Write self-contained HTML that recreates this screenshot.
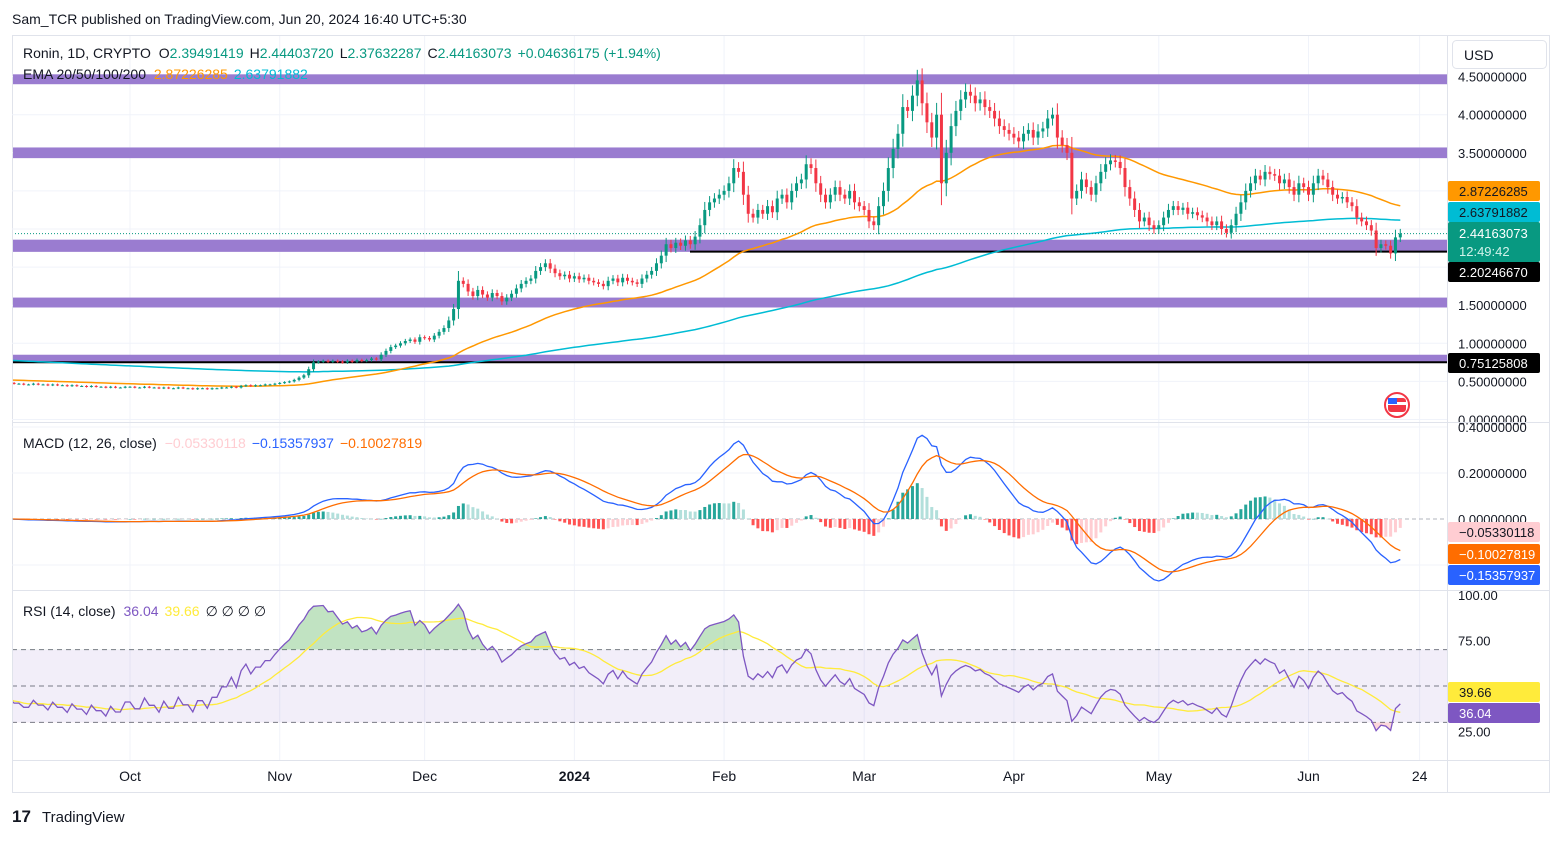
<!DOCTYPE html>
<html><head><meta charset="utf-8"><style>
body{margin:0;background:#fff;width:1563px;height:837px;overflow:hidden;font-family:"Liberation Sans",sans-serif}
svg text{font-family:"Liberation Sans",sans-serif}
</style></head><body>
<svg id="chart" width="1563" height="837" viewBox="0 0 1563 837" xmlns="http://www.w3.org/2000/svg">
<defs><clipPath id="plot"><rect x="13" y="36" width="1434" height="724"/></clipPath></defs>
<text x="12" y="24" font-size="14" fill="#131722">Sam_TCR published on TradingView.com, Jun 20, 2024 16:40 UTC+5:30</text>
<rect x="12.5" y="35.5" width="1537" height="757" fill="none" stroke="#e0e3eb"/>
<g id="grid"></g>
<g id="bands" clip-path="url(#plot)"></g>
<g id="main" clip-path="url(#plot)"></g>
<g id="macd" clip-path="url(#plot)"></g>
<g id="rsi" clip-path="url(#plot)"></g>
<g id="axes"></g>
<line x1="12" y1="422.5" x2="1550" y2="422.5" stroke="#e0e3eb"/>
<line x1="12" y1="590.5" x2="1550" y2="590.5" stroke="#e0e3eb"/>
<line x1="1447.5" y1="35" x2="1447.5" y2="792" stroke="#e0e3eb"/>
<line x1="12" y1="760.5" x2="1550" y2="760.5" stroke="#e0e3eb"/>
<text x="23" y="58" font-size="14" fill="#131722">Ronin, 1D, CRYPTO <tspan dx="4">O</tspan><tspan fill="#089981">2.39491419</tspan><tspan dx="6">H</tspan><tspan fill="#089981">2.44403720</tspan><tspan dx="6">L</tspan><tspan fill="#089981">2.37632287</tspan><tspan dx="6">C</tspan><tspan fill="#089981">2.44163073</tspan><tspan dx="6" fill="#089981">+0.04636175 (+1.94%)</tspan></text>
<text x="23" y="79" font-size="14" fill="#131722">EMA 20/50/100/200 <tspan dx="4" fill="#ff9800">2.87226285</tspan><tspan dx="6" fill="#00bcd4">2.63791882</tspan></text>
<text x="23" y="448" font-size="14" fill="#131722">MACD (12, 26, close) <tspan dx="4" fill="#ffcdd2">−0.05330118</tspan><tspan dx="6" fill="#2962ff">−0.15357937</tspan><tspan dx="6" fill="#ff6d00">−0.10027819</tspan></text>
<text x="23" y="616" font-size="14" fill="#131722">RSI (14, close) <tspan dx="4" fill="#7e57c2">36.04</tspan><tspan dx="6" fill="#ffeb3b">39.66</tspan><tspan dx="6">∅  ∅  ∅  ∅</tspan></text>
<rect x="1452.5" y="40.5" width="94" height="28" rx="4" fill="#fff" stroke="#e0e3eb"/>
<text x="1464" y="60" font-size="14" fill="#131722">USD</text>
<g><circle cx="1397" cy="405" r="12" fill="#fff" stroke="#f23645" stroke-width="2"/><rect x="1388" y="398" width="18" height="14" rx="3" fill="#f23645"/><rect x="1388" y="402" width="18" height="3" fill="#fff"/><rect x="1388" y="398" width="9" height="6" fill="#2962ff"/></g>
<g><text x="12" y="822" font-size="17" font-weight="bold" fill="#131722">17</text><text x="42" y="822" font-size="15" fill="#131722">TradingView</text></g>
</svg>
<script>
const NS='http://www.w3.org/2000/svg';
// ---- data ----
const closes=[
0.48,0.47,0.47,0.46,0.46,0.47,0.46,0.46,0.45,0.46,0.45,0.45,0.44,0.45,0.44,0.44,0.43,0.44,0.43,0.43,0.42,0.43,0.42,0.42,0.43,
0.43,0.42,0.42,0.43,0.42,0.42,0.41,0.42,0.41,0.41,0.42,0.41,0.41,0.40,0.41,0.41,0.40,0.41,0.41,0.42,0.42,0.43,0.42,0.44,0.45,0.44,0.45,0.45,0.46,0.46,0.47,
0.48,0.49,0.50,0.52,0.55,0.58,0.66,0.75,0.76,0.77,0.76,0.77,0.76,0.75,0.77,0.76,0.78,0.77,0.78,0.80,0.79,0.85,0.90,0.95,0.97,1.00,1.03,1.05,1.02,1.08,
1.07,1.05,1.10,1.15,1.20,1.30,1.45,1.82,1.78,1.68,1.62,1.70,1.64,1.60,1.66,1.62,1.55,1.60,1.65,1.72,1.78,1.82,1.85,1.95,2.00,2.05,1.98,1.92,1.88,1.90,1.85,
1.88,1.84,1.86,1.82,1.80,1.78,1.75,1.82,1.85,1.80,1.86,1.82,1.80,1.78,1.85,1.90,1.95,2.05,2.15,2.30,2.25,2.32,2.28,2.35,2.30,2.40,2.55,2.75,2.85,2.90,2.95,
3.00,3.10,3.30,3.25,2.95,2.70,2.65,2.75,2.70,2.80,2.72,2.90,2.95,2.85,3.00,3.10,3.15,3.35,3.30,3.10,2.95,2.85,2.95,3.05,2.95,2.90,3.00,2.85,2.80,
2.75,2.60,2.55,2.80,3.00,3.30,3.55,3.75,4.10,4.05,4.25,4.45,4.15,3.90,3.70,4.00,3.10,3.50,3.85,4.05,4.20,4.30,4.25,4.15,4.20,4.10,4.05,3.95,3.85,3.80,3.75,
3.70,3.65,3.75,3.80,3.70,3.78,3.82,3.95,4.00,3.70,3.60,3.50,2.90,3.00,3.15,3.05,2.95,3.10,3.25,3.35,3.40,3.38,3.30,3.05,2.90,2.75,2.60,2.65,2.55,2.50,
2.55,2.65,2.75,2.80,2.75,2.78,2.70,2.72,2.68,2.65,2.60,2.55,2.60,2.50,2.45,2.55,2.70,2.85,3.00,3.10,3.20,3.15,3.25,3.22,3.20,3.10,3.15,3.05,2.95,3.10,3.05,
2.95,3.10,3.20,3.15,3.05,2.95,2.90,2.92,2.85,2.80,2.65,2.60,2.55,2.48,2.25,2.30,2.28,2.18,2.39,2.44];
const priceTicks=[4.5,4.0,3.5,3.0,2.5,2.0,1.5,1.0,0.5,0.0];
const macdTicks=[0.4,0.2,0.0];
const rsiTicks=[100,75,25];
const bandLevels=[[4.40,4.53],[3.43,3.57],[2.20,2.36],[1.47,1.60],[0.75,0.85]];
const hLines=[2.2024667,0.75125808];
const monthLabels=['Oct','Nov','Dec','2024','Feb','Mar','Apr','May','Jun','24'];
const monthIdx=[25,56,86,117,148,177,208,238,269,292];
const emaSeeds=[0.52,0.78];
const rsiSeed=[0.006,0.008];
// ---- scales ----
const X=i=>130+4.83*(i-25);
const Y=v=>419.5-76.2*v;
const MY=v=>519-230*v;
const RY=v=>777-1.82*v;
function el(p,tag,attrs,name){const e=document.createElementNS(NS,tag);for(const k in attrs)e.setAttribute(k,attrs[k]);


p.appendChild(e);return e;}
const G=id=>document.getElementById(id);
monthIdx.forEach((m,k)=>{el(G('grid'),'line',{x1:X(m),x2:X(m),y1:36,y2:760,stroke:'#f0f3fa'},'grid-v');
const t=el(G('axes'),'text',{x:X(m),y:781,'font-size':14,'text-anchor':'middle',fill:'#131722','font-weight':monthLabels[k]==='2024'?'bold':'normal'},'time-label');t.textContent=monthLabels[k];});
priceTicks.forEach(v=>{el(G('grid'),'line',{x1:12,x2:1447,y1:Y(v),y2:Y(v),stroke:'#f0f3fa'},'grid-h');
const t=el(G('axes'),'text',{x:1458,y:Y(v)+5,'font-size':13,fill:'#131722'},'price-tick');t.textContent=v.toFixed(8);});
macdTicks.forEach(v=>{if(v!==0)el(G('grid'),'line',{x1:12,x2:1447,y1:MY(v),y2:MY(v),stroke:'#f0f3fa'},'grid-h');
const t=el(G('axes'),'text',{x:1458,y:MY(v)+5,'font-size':13,fill:'#131722'},'macd-tick');t.textContent=v.toFixed(8);});
el(G('grid'),'line',{x1:12,x2:1447,y1:MY(0),y2:MY(0),stroke:'#b2b5be','stroke-dasharray':'4,3'},'macd-zero-line');
el(G('grid'),'line',{x1:12,x2:1447,y1:MY(-0.2),y2:MY(-0.2),stroke:'#f0f3fa'},'grid-h');
rsiTicks.forEach(v=>{const t=el(G('axes'),'text',{x:1458,y:RY(v)+5,'font-size':13,fill:'#131722'},'rsi-tick');t.textContent=v.toFixed(2);});
bandLevels.forEach(b=>el(G('bands'),'rect',{x:12,width:1435,y:Y(b[1]),height:Y(b[0])-Y(b[1]),fill:'#9575cd','fill-opacity':0.95},'price-band'));
hLines.forEach((v,k)=>el(G('bands'),'line',{x1:k?12:690,x2:1447,y1:Y(v),y2:Y(v),stroke:'#000','stroke-width':2},'horizontal-level'));
function ema(arr,n,seed){const a=2/(n+1);let e=seed;return arr.map(v=>e=e+a*(v-e));}
const ema50=ema(closes,50,emaSeeds[0]), ema200=ema(closes,200,emaSeeds[1]);
const pathOf=(arr,fy)=>arr.map((v,i)=>(i?'L':'M')+X(i).toFixed(1)+','+fy(v).toFixed(1)).join('');
el(G('main'),'path',{d:pathOf(ema200,Y),fill:'none',stroke:'#00bcd4','stroke-width':1.5},'ema-200-line');
el(G('main'),'path',{d:pathOf(ema50,Y),fill:'none',stroke:'#ff9800','stroke-width':1.5},'ema-50-line');
const last=closes[closes.length-1];
el(G('main'),'line',{x1:12,x2:1447,y1:Y(last),y2:Y(last),stroke:'#089981','stroke-dasharray':'1,2'},'last-price-line');
closes.forEach((c,i)=>{const o=i?closes[i-1]:c;const up=c>=o;const col=up?'#089981':'#f23645';
const w=Math.abs(c-o)*0.25+c*0.02;const hi=Math.max(o,c)+w,lo=Math.min(o,c)-w;
el(G('main'),'line',{x1:X(i),x2:X(i),y1:Y(hi),y2:Y(lo),stroke:col},'candle-wick');
const yt=Y(Math.max(o,c)),yb=Y(Math.min(o,c));
el(G('main'),'rect',{x:X(i)-1.5,width:3,y:yt,height:Math.max(1,yb-yt),fill:col},'candle');});
const e12=ema(closes,12,closes[0]),e26=ema(closes,26,closes[0]);
const macd=e12.map((v,i)=>v-e26[i]);const sig=ema(macd,9,0);
macd.forEach((m,i)=>{const h=m-sig[i];const p=i?macd[i-1]-sig[i-1]:0;
const col=h>=0?(h>=p?'#26a69a':'#b2dfdb'):(h<p?'#ff5252':'#ffcdd2');
const y0=MY(0),y1=MY(h);el(G('macd'),'rect',{x:X(i)-1.5,width:3,y:Math.min(y0,y1),height:Math.max(0.5,Math.abs(y1-y0)),fill:col},'macd-histogram-bar');});
el(G('macd'),'path',{d:pathOf(macd,MY),fill:'none',stroke:'#2962ff','stroke-width':1.3},'macd-line');
el(G('macd'),'path',{d:pathOf(sig,MY),fill:'none',stroke:'#ff6d00','stroke-width':1.3},'signal-line');
function rsiCalc(arr,n){let ag=rsiSeed[0],al=rsiSeed[1];const out=[];arr.forEach((v,i)=>{if(i>0){const d=v-arr[i-1];
ag=(ag*(n-1)+Math.max(d,0))/n;al=(al*(n-1)+Math.max(-d,0))/n;}out.push(100-100/(1+ag/al));});return out;}
const rsi=rsiCalc(closes,14);
const rsiMa=rsi.map((v,i)=>{const s=rsi.slice(Math.max(0,i-13),i+1);return s.reduce((a,b)=>a+b,0)/s.length;});
el(G('rsi'),'rect',{x:12,width:1435,y:RY(70),height:RY(30)-RY(70),fill:'#7e57c2','fill-opacity':0.1},'rsi-band-fill');
[70,50,30].forEach(v=>el(G('rsi'),'line',{x1:12,x2:1447,y1:RY(v),y2:RY(v),stroke:'#787b86','stroke-dasharray':'5,4'},'rsi-level-line'));
const defs=el(G('rsi'),'defs',{},'rsi-defs');
el(el(defs,'clipPath',{id:'ob'},'ob-clip'),'rect',{x:0,y:590,width:1447,height:RY(70)-590},'ob-rect');
el(el(defs,'clipPath',{id:'os'},'os-clip'),'rect',{x:0,y:RY(30),width:1447,height:60},'os-rect');
const rp=pathOf(rsi,RY);
el(G('rsi'),'path',{d:rp+'L'+X(rsi.length-1)+','+RY(70)+'L'+X(0)+','+RY(70)+'Z',fill:'#4caf50','fill-opacity':0.35,'clip-path':'url(#ob)'},'rsi-overbought-fill');
el(G('rsi'),'path',{d:rp+'L'+X(rsi.length-1)+','+RY(30)+'L'+X(0)+','+RY(30)+'Z',fill:'#f23645','fill-opacity':0.2,'clip-path':'url(#os)'},'rsi-oversold-fill');
el(G('rsi'),'path',{d:pathOf(rsiMa,RY),fill:'none',stroke:'#ffeb3b','stroke-width':1.3},'rsi-ma-line');
el(G('rsi'),'path',{d:rp,fill:'none',stroke:'#7e57c2','stroke-width':1.3},'rsi-line');
function tag(y,bg,fg,txt,name,h,ty){const g=G('axes');el(g,'rect',{x:1448,y:y-(h||20)/2,width:92,height:h||20,rx:2,fill:bg},name+'-bg');
const t=el(g,'text',{x:1459,y:ty||y+5,'font-size':13,fill:fg},name);t.textContent=txt;}
tag(191,'#ff9800','#131722','2.87226285','ema50-price-tag');
tag(212,'#00bcd4','#131722','2.63791882','ema200-price-tag');
tag(242,'#089981','#fff','2.44163073','last-price-tag',40,238);
const cd=el(G('axes'),'text',{x:1459,y:256,'font-size':13,fill:'#d1f2ea'},'countdown-label');cd.textContent='12:49:42';
tag(272,'#000','#fff','2.20246670','level-tag-upper');
tag(363,'#000','#fff','0.75125808','level-tag-lower');
tag(532,'#ffcdd2','#131722','−0.05330118','macd-hist-tag');
tag(554,'#ff6d00','#fff','−0.10027819','macd-signal-tag');
tag(575,'#2962ff','#fff','−0.15357937','macd-line-tag');
tag(692,'#ffeb3b','#131722','39.66','rsi-ma-tag');
tag(713,'#7e57c2','#fff','36.04','rsi-tag');
</script>
</body></html>
